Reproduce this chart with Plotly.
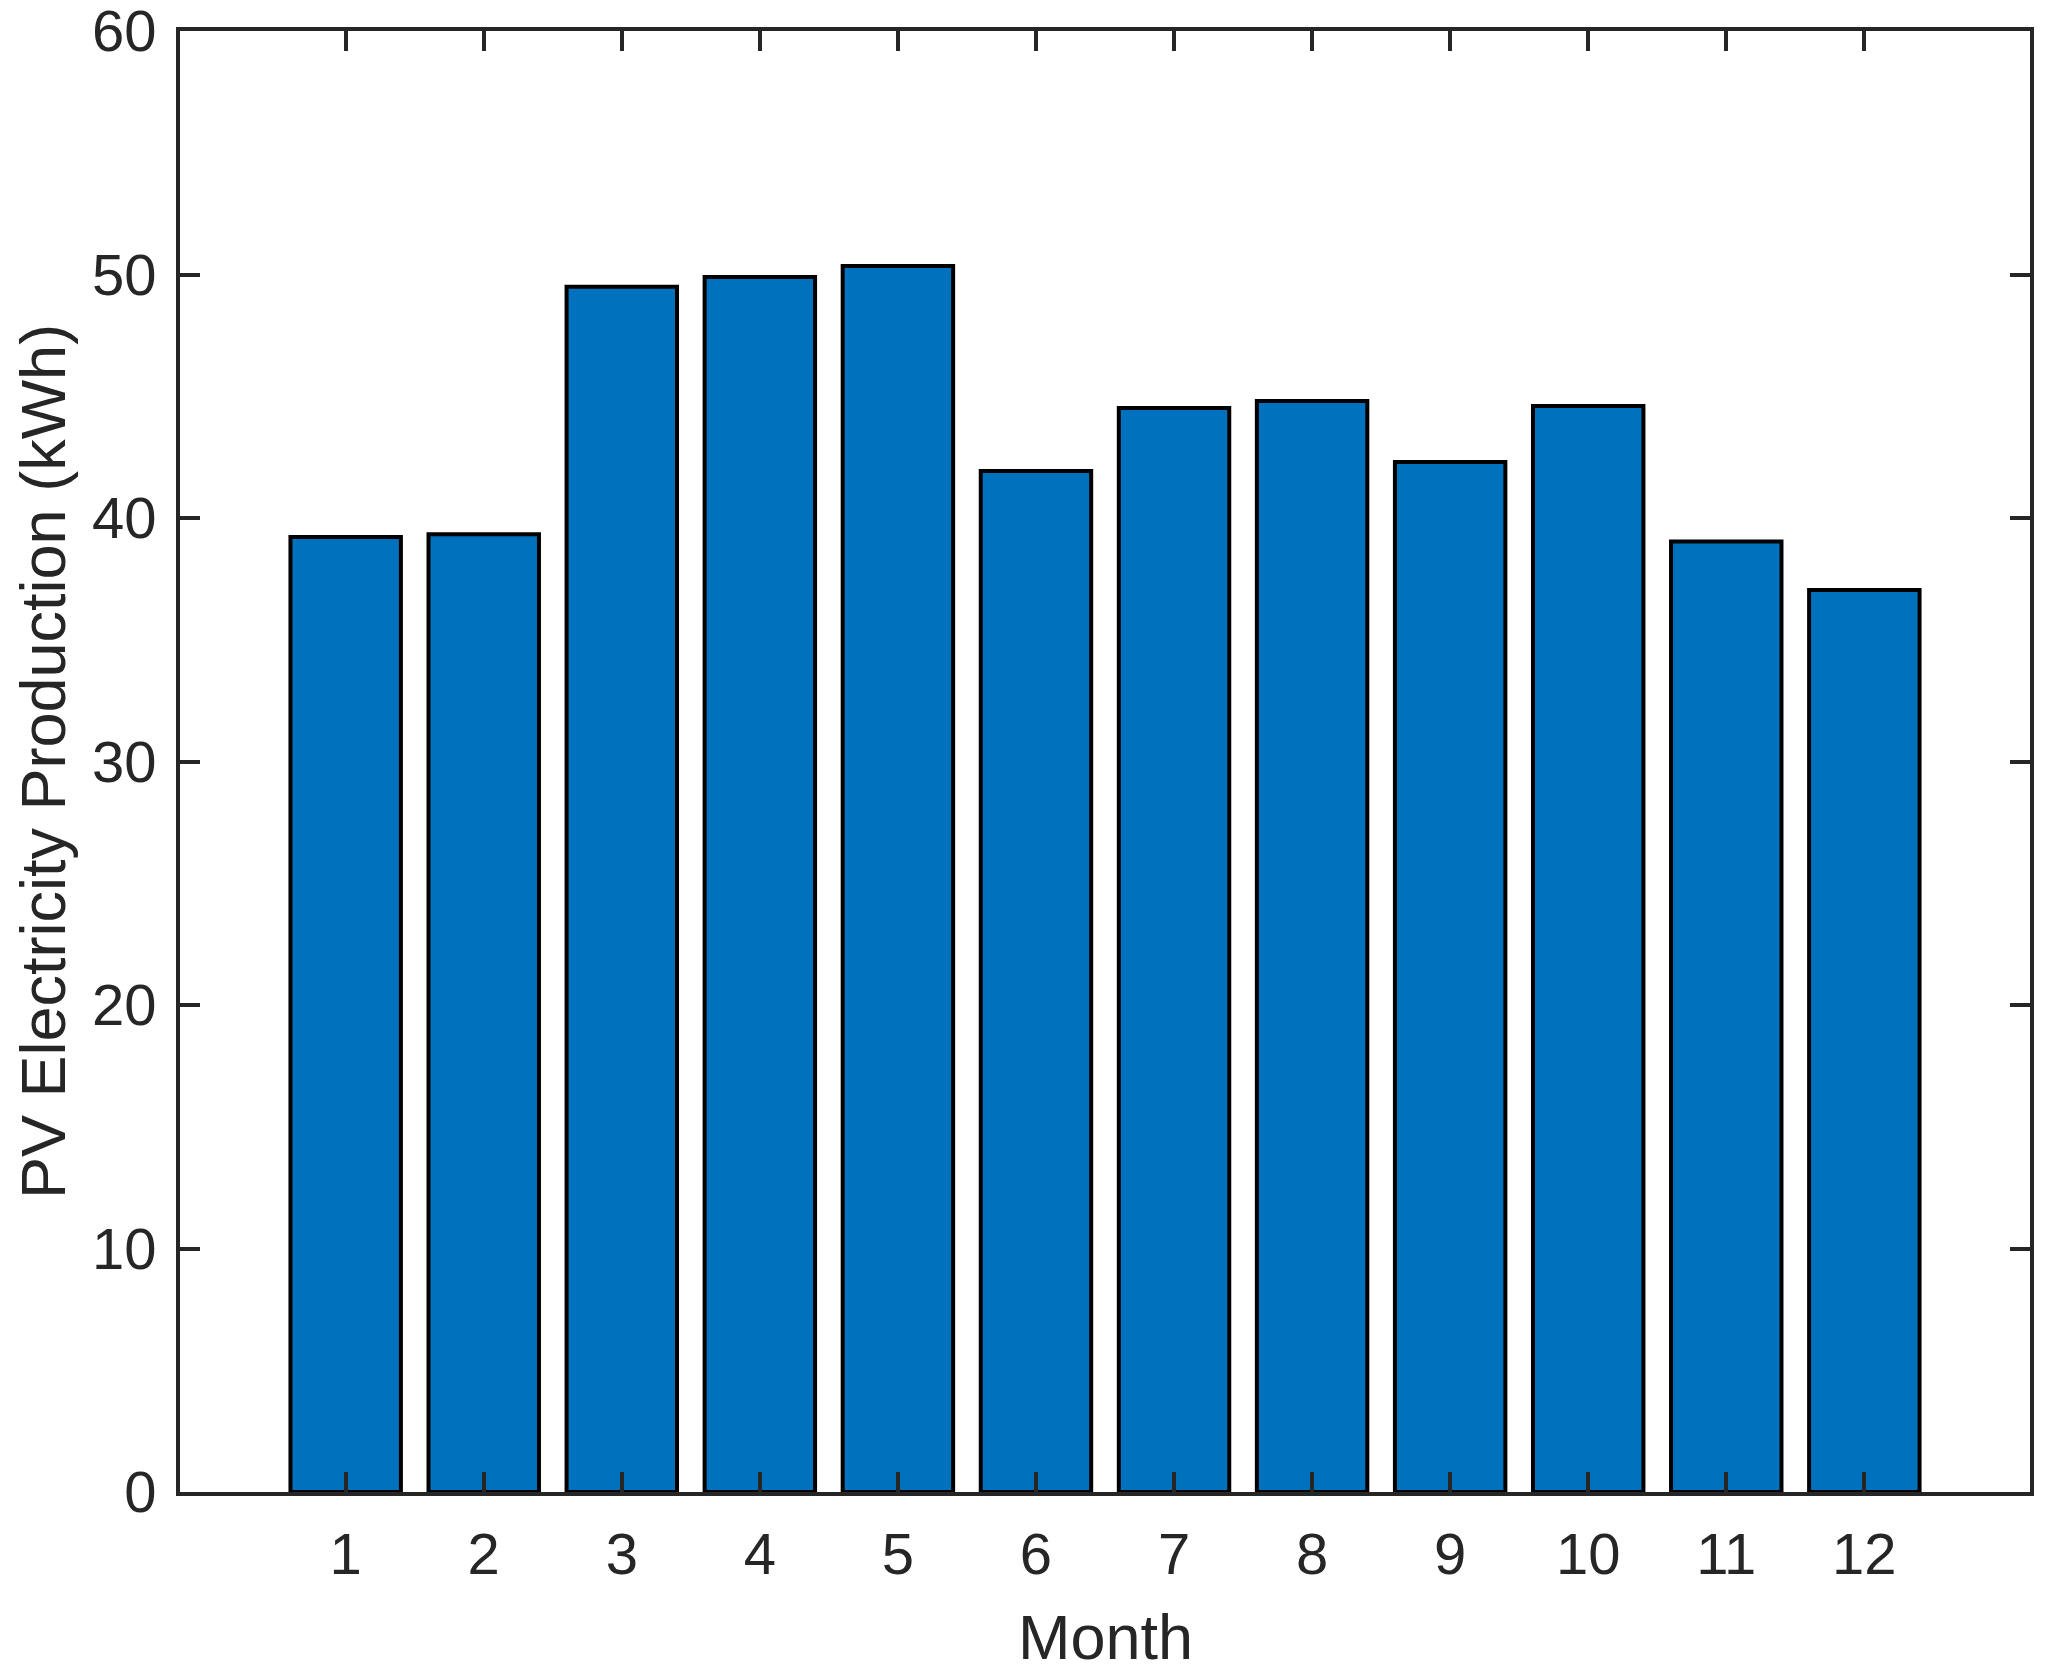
import plotly.graph_objects as go

months = [1, 2, 3, 4, 5, 6, 7, 8, 9, 10, 11, 12]
pv_kwh = [39.22, 39.33, 49.5, 49.9, 50.35, 41.93, 44.52, 44.8, 42.3, 44.6, 39.04, 37.04]
y_ticks = [0, 10, 20, 30, 40, 50, 60]

axis_color = "#262626"
font_family = "Liberation Sans, Arial, sans-serif"

fig = go.Figure(
    go.Bar(
        x=months,
        y=pv_kwh,
        width=0.8,
        marker=dict(color="#0072BD", line=dict(color="#000000", width=4)),
    )
)

fig.update_layout(
    width=2034,
    height=1652,
    margin=dict(l=172, r=12, t=23, b=168, autoexpand=False),
    paper_bgcolor="white",
    plot_bgcolor="white",
    showlegend=False,
    font=dict(family=font_family, color=axis_color, size=58),
    annotations=[
        dict(
            text="Month",
            xref="paper",
            yref="paper",
            x=0.5,
            y=-0.0739,
            xanchor="center",
            yanchor="top",
            showarrow=False,
            font=dict(size=63, color=axis_color, family=font_family),
        )
    ],
)

fig.update_xaxes(
    range=[-0.2, 13.2],
    tickmode="array",
    tickvals=months,
    ticktext=[str(m) for m in months],
    ticks="inside",
    ticklen=20,
    tickwidth=4,
    tickcolor=axis_color,
    showline=True,
    linewidth=4,
    linecolor=axis_color,
    mirror="allticks",
    showgrid=False,
    zeroline=False,
    automargin=False,
    ticklabeloverflow="allow",
    tickfont=dict(size=58, color=axis_color),
    ticklabelstandoff=8,
)

fig.update_yaxes(
    range=[0, 60],
    tickmode="array",
    tickvals=y_ticks,
    ticktext=[str(v) for v in y_ticks],
    ticks="inside",
    ticklen=20,
    tickwidth=4,
    tickcolor=axis_color,
    showline=True,
    linewidth=4,
    linecolor=axis_color,
    mirror="allticks",
    showgrid=False,
    zeroline=False,
    automargin=False,
    ticklabeloverflow="allow",
    tickfont=dict(size=58, color=axis_color),
    ticklabelstandoff=8,
    title=dict(text="PV Electricity Production (kWh)", font=dict(size=63, color=axis_color)),
)

fig.write_html("out.html")
